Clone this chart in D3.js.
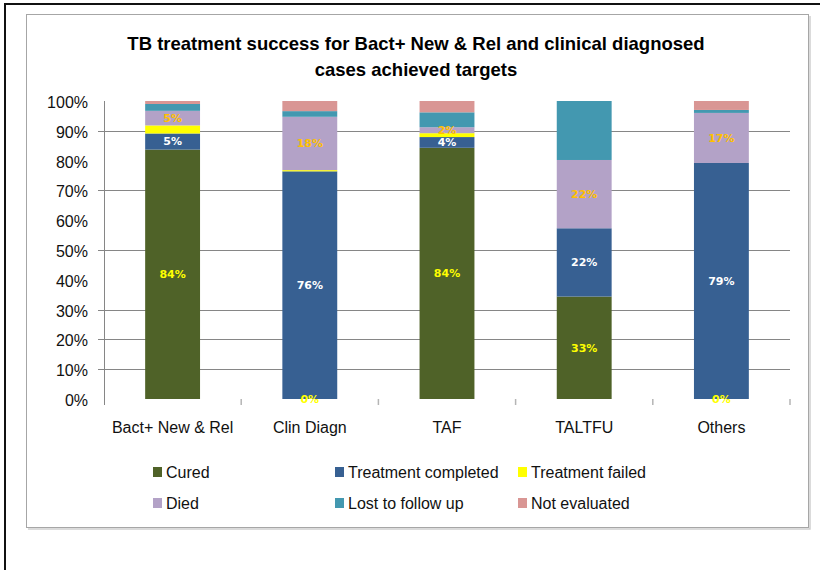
<!DOCTYPE html>
<html>
<head>
<meta charset="utf-8">
<script src="https://cdn.jsdelivr.net/npm/d3@7"></script>
<style>
  body { margin: 0; background: #fff; }
  .tick-label { font-family: "Liberation Sans", Arial, sans-serif; font-size: 16px; fill: #111; }
  .legend-label { font-family: "Liberation Sans", Arial, sans-serif; font-size: 16px; fill: #111; }
  .chart-title { font-family: "Liberation Sans", Arial, sans-serif; font-size: 18.5px; font-weight: bold; fill: #000; }
  .data-label { font-family: "DejaVu Sans", Verdana, sans-serif; font-size: 11px; font-weight: bold; }
</style>
</head>
<body>
<div id="chart"></div>
<script>
const categories = ["Bact+ New & Rel", "Clin Diagn", "TAF", "TALTFU", "Others"];

const cured = [83.7, 0, 84.3, 33, 0];
const completed = [5.4, 76.4, 3.6, 22, 79.2];
const failed = [2.7, 0.4, 1.3, 0, 0];
const died = [4.9, 17.9, 2.0, 22, 16.8];
const lost = [2.3, 1.9, 5.0, 19, 1.0];
const notEvaluated = [1.0, 3.4, 3.8, 0, 3.0];

const seriesNames = ["Cured", "Treatment completed", "Treatment failed", "Died", "Lost to follow up", "Not evaluated"];
const seriesColors = ["#4f6228", "#376092", "#ffff00", "#b3a2c7", "#4398b0", "#d99694"];
// only these series had labels switched on in the original
const labelColors = ["#ffff00", "#ffffff", null, "#ffc000", null, null];

const yTicks = [0, 0.1, 0.2, 0.3, 0.4, 0.5, 0.6, 0.7, 0.8, 0.9, 1];
const gridTicks = [0.1, 0.2, 0.3, 0.5, 0.7, 0.9];

const width = 820;
const height = 570;

const svg = d3.select("#chart").append("svg").attr("width", width).attr("height", height);

// frames
svg.append("rect")
  .attr("x", 5).attr("y", 4)
  .attr("width", 830).attr("height", 580)
  .attr("fill", "none").attr("stroke", "#111").attr("stroke-width", 2);

svg.append("rect")
  .attr("x", 26.5).attr("y", 14.5)
  .attr("width", 782).attr("height", 513)
  .attr("fill", "#fff").attr("stroke", "#a6a6a6").attr("stroke-width", 1);

svg.append("polyline")
  .attr("points", "810,16 810,529 28,529")
  .attr("fill", "none").attr("stroke", "#cfcfcf").attr("stroke-width", 1.5);

// title
const title = svg.append("text").attr("class", "chart-title").attr("text-anchor", "middle");
title.append("tspan").attr("x", 416).attr("y", 50).text("TB treatment success for Bact+ New & Rel and clinical diagnosed");
title.append("tspan").attr("x", 416).attr("y", 76).text("cases achieved targets");

const x = d3.scaleBand().domain(categories).range([104, 790]).paddingInner(0.6).paddingOuter(0.3);
const y = d3.scaleLinear().domain([0, 1]).range([399, 101]);

// table for the stack
const rows = categories.map(function (c, i) {
  return {
    category: c,
    "Cured": cured[i],
    "Treatment completed": completed[i],
    "Treatment failed": failed[i],
    "Died": died[i],
    "Lost to follow up": lost[i],
    "Not evaluated": notEvaluated[i]
  };
});

const stack = d3.stack().keys(seriesNames).offset(d3.stackOffsetExpand);
const layers = stack(rows);

// gridlines (the original only shows some of them)
svg.append("g")
  .selectAll("line")
  .data(gridTicks)
  .enter()
  .append("line")
  .attr("x1", 98).attr("x2", 790)
  .attr("y1", (d) => Math.round(y(d)) + 0.5)
  .attr("y2", (d) => Math.round(y(d)) + 0.5)
  .attr("stroke", "#868686");

// y axis line
svg.append("line")
  .attr("x1", 104.5).attr("x2", 104.5)
  .attr("y1", 101).attr("y2", 405)
  .attr("stroke", "#868686");

// category ticks
const step = x.step();
svg.append("g")
  .selectAll("line")
  .data(categories)
  .enter()
  .append("line")
  .attr("x1", (d) => x(d) - x.paddingOuter() * step + step)
  .attr("x2", (d) => x(d) - x.paddingOuter() * step + step)
  .attr("y1", 399).attr("y2", 405)
  .attr("stroke", "#b5b5b5").attr("stroke-width", 1.5);

// y labels
svg.append("g")
  .selectAll("text")
  .data(yTicks)
  .enter()
  .append("text")
  .attr("class", "tick-label")
  .attr("x", 88)
  .attr("y", (d) => y(d) + 7)
  .attr("text-anchor", "end")
  .text((d) => Math.round(d * 100) + "%");

// x labels
svg.append("g")
  .selectAll("text")
  .data(categories)
  .enter()
  .append("text")
  .attr("class", "tick-label")
  .attr("x", (d) => x(d) + x.bandwidth() / 2)
  .attr("y", 433)
  .attr("text-anchor", "middle")
  .text((d) => d);

// bars
const layer = svg.append("g")
  .selectAll("g")
  .data(layers)
  .enter()
  .append("g")
  .attr("fill", (d, i) => seriesColors[i]);

layer.selectAll("rect")
  .data((d) => d)
  .enter()
  .append("rect")
  .attr("x", (d) => x(d.data.category))
  .attr("width", x.bandwidth())
  .attr("y", (d) => y(d[1]))
  .attr("height", (d) => y(d[0]) - y(d[1]));

// data labels
layers.forEach(function (ly, i) {
  if (!labelColors[i]) return;
  svg.append("g")
    .selectAll("text")
    .data(ly)
    .enter()
    .append("text")
    .attr("class", "data-label")
    .attr("fill", labelColors[i])
    .attr("x", (d) => x(d.data.category) + x.bandwidth() / 2)
    .attr("y", (d) => (y(d[0]) + y(d[1])) / 2)
    .attr("dy", "0.36em")
    .attr("text-anchor", "middle")
    .text((d) => Math.round(d.data[ly.key]) + "%");
});

// legend, 3 per row
const legendX = [153, 335, 518];
const legendY = [472, 503];
const legend = svg.append("g")
  .selectAll("g")
  .data(seriesNames)
  .enter()
  .append("g")
  .attr("transform", (d, i) => "translate(" + legendX[i % 3] + "," + legendY[Math.floor(i / 3)] + ")");

legend.append("rect")
  .attr("x", 0).attr("y", -5)
  .attr("width", 9).attr("height", 10)
  .attr("fill", (d, i) => seriesColors[i]);

legend.append("text")
  .attr("class", "legend-label")
  .attr("x", 13)
  .attr("y", 6)
  .text((d) => d);
</script>
</body>
</html>
